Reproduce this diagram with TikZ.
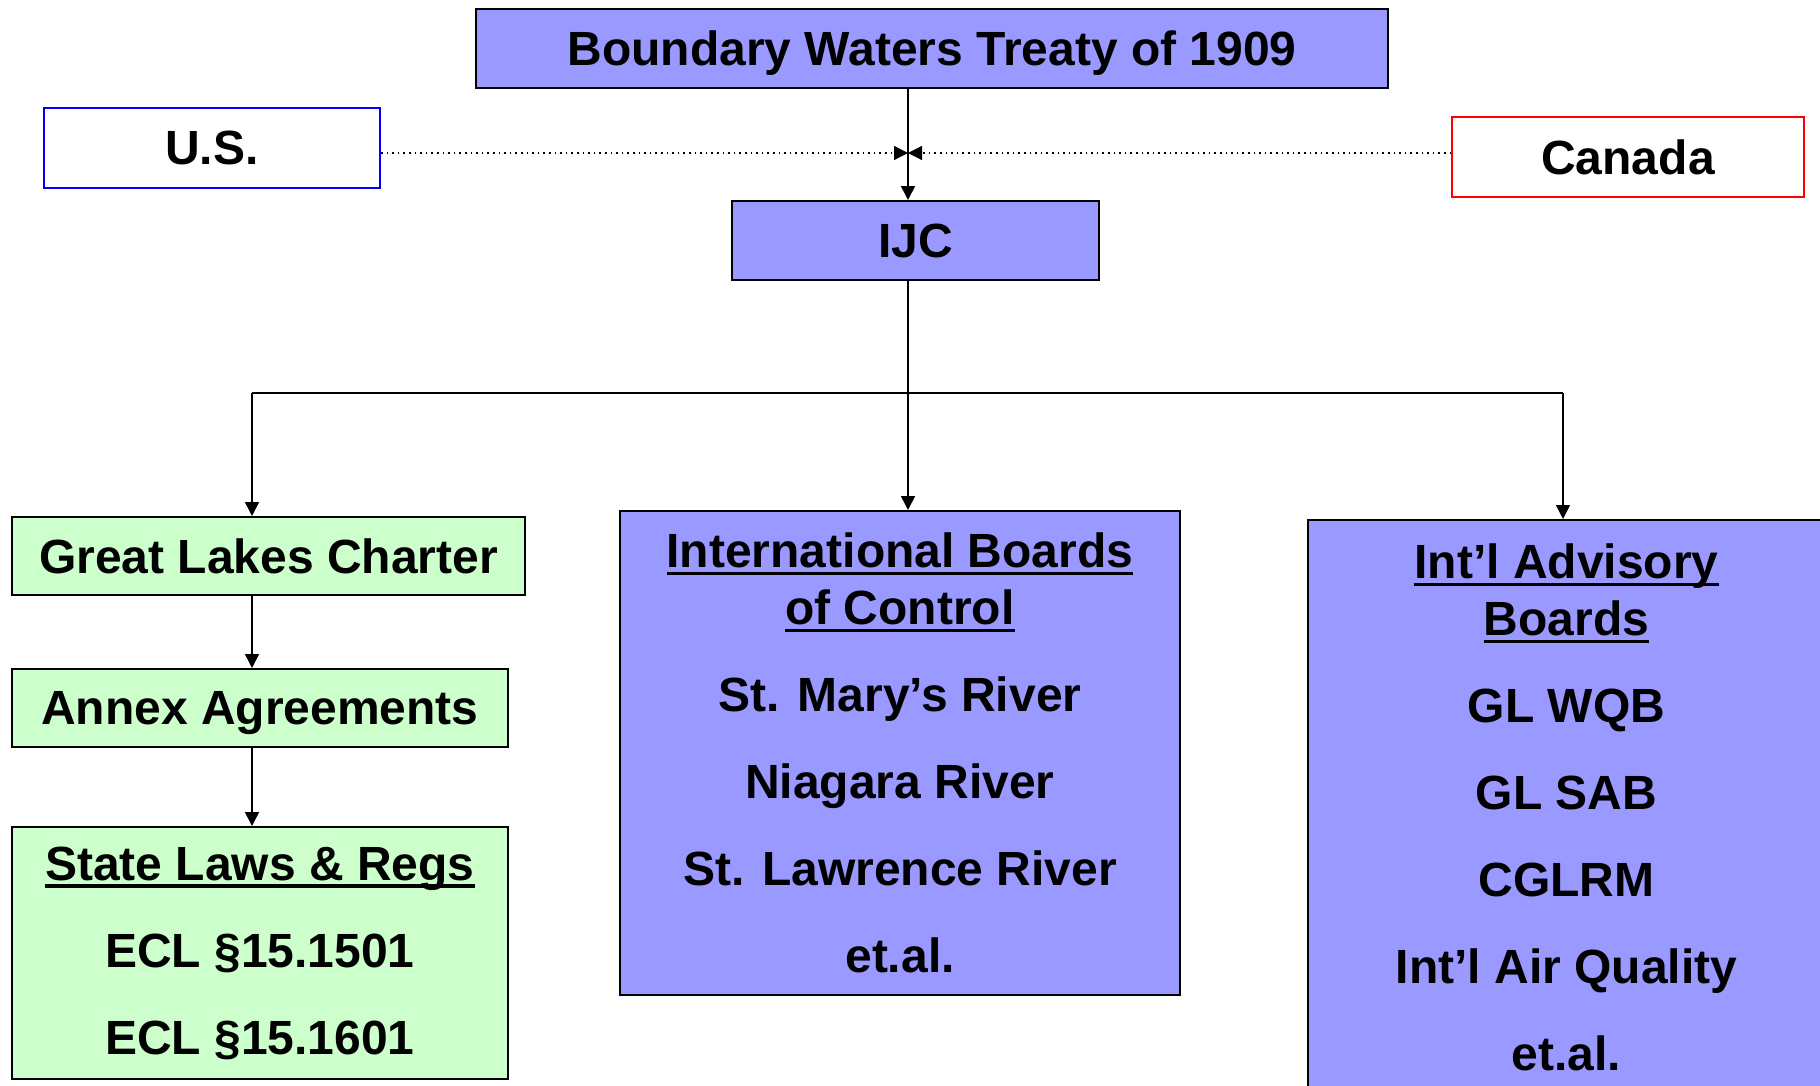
\documentclass[tikz,border=0pt]{standalone}
\usepackage{fontspec}
\setmainfont{Liberation Sans}
\usetikzlibrary{positioning,calc,arrows.meta}
\definecolor{boxblue}{HTML}{9999FF}
\definecolor{boxgreen}{HTML}{CCFFCC}
\newsavebox\ulbx
\newcommand{\ulbold}[1]{\sbox\ulbx{#1}\rlap{\rule[-3.9pt]{\wd\ulbx}{1.7pt}}\usebox\ulbx}
\tikzset{
	bluebox/.style={rectangle, draw=black, line width=1pt, fill=boxblue, inner sep=0pt, align=center, font=\fontsize{24}{28.5}\selectfont\bfseries},
	greenbox/.style={bluebox, fill=boxgreen},
	whitebox/.style={bluebox, fill=white, line width=0.9pt},
	link/.style={line width=0.8pt, -{Triangle[length=7pt,width=7pt]}},
}

\begin{document}
\begin{tikzpicture}[x=0.5pt,y=-0.5pt]
			\useasboundingbox (0,0) rectangle (1820,1086);
			% top row
			\node[bluebox, text depth=0pt, minimum width=456pt, minimum height=39.5pt] (treaty) at (932,48.5) {Boundary Waters Treaty of 1909};
			\node[whitebox, draw=blue, minimum width=168pt, minimum height=40pt] (us) at (212,148) {U.S.};
			\node[whitebox, draw=red, minimum width=176pt, minimum height=40pt] (ca) at (1628,157) {Canada};
			\node[bluebox, minimum width=183.5pt, minimum height=39.5pt] (ijc) at (915.5,240.5) {IJC};
			\coordinate (mid) at (908,153);
			\draw[link] (treaty.south -| mid) -- (ijc.north -| mid);
			\draw[link, dotted, line width=0.6pt] (us.east |- mid) -- (mid);
			\draw[link, dotted, line width=0.6pt] (ca.west |- mid) -- (mid);
			% lower row
			\node[greenbox, minimum width=256.5pt, minimum height=39pt] (glc) at (268.5,556) {Great Lakes Charter};
			\node[greenbox, text depth=0pt, minimum width=248pt, minimum height=39pt] (annex) at (260,708) {Annex Agreements};
			\node[greenbox, minimum width=248pt, minimum height=126pt] (state) at (260,953) {\ulbold{State Laws \& Regs}\\[15pt]ECL §15.1501\\[15pt]ECL §15.1601};
			\node[bluebox, minimum width=280pt, minimum height=242pt] (ibc) at (900,753) {\ulbold{International Boards}\\\ulbold{of Control}\\[15pt]St. Mary’s River\\[15pt]Niagara River\\[15pt]St. Lawrence River\\[15pt]et.al.};
			\node[bluebox, minimum width=258.5pt, minimum height=287pt] (iab) at (1566.5,807) {\ulbold{Int’l Advisory}\\\ulbold{Boards}\\[15pt]GL WQB\\[15pt]GL SAB\\[15pt]CGLRM\\[15pt]Int’l Air Quality\\[15pt]et.al.};
			% bus
			\coordinate (bus) at (908,393);
			\coordinate (lft) at (252,393);
			\coordinate (rgt) at (1563,393);
			\draw[line width=0.8pt] (ijc.south -| bus) -- (bus);
			\draw[line width=0.8pt] (lft) -- (rgt);
			\draw[link] (lft) -- (glc.north -| lft);
			\draw[link] (bus) -- (ibc.north -| bus);
			\draw[link] (rgt) -- (iab.north -| rgt);
			\draw[link] (glc.south -| lft) -- (annex.north -| lft);
			\draw[link] (annex.south -| lft) -- (state.north -| lft);
		\end{tikzpicture}
\end{document}
